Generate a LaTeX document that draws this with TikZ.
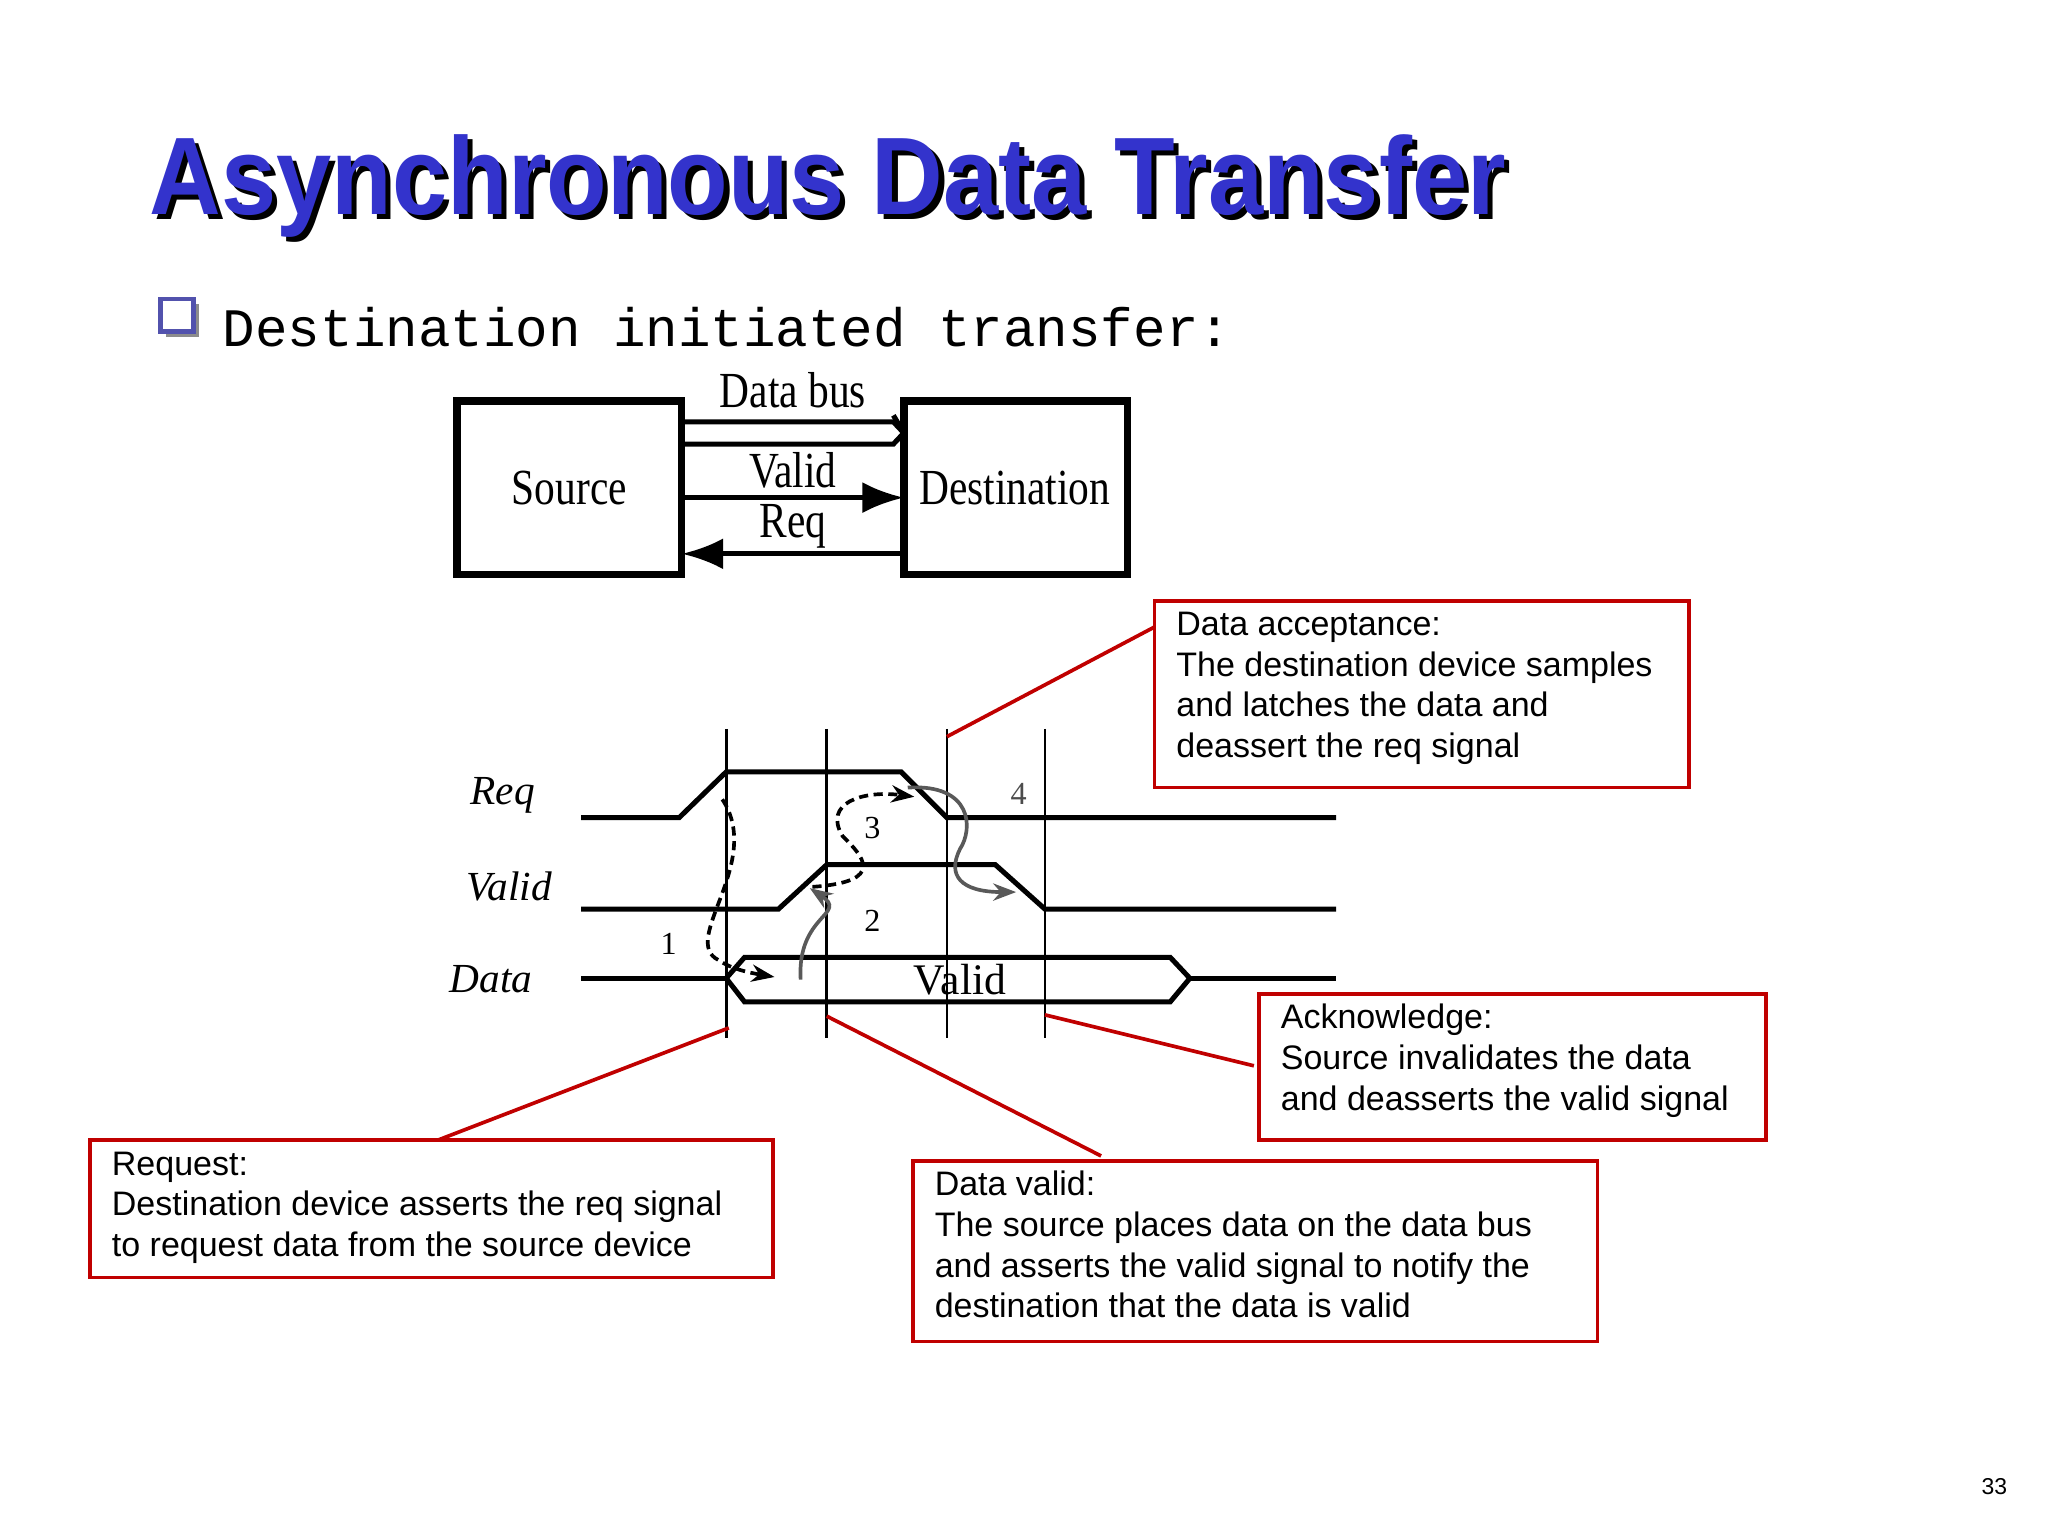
\documentclass[tikz,border=0pt]{standalone}
\usepackage{fontspec}
\setmainfont{Liberation Serif}
\setsansfont{Liberation Sans}
\setmonofont{Liberation Mono}
\usetikzlibrary{arrows.meta}
\definecolor{tblue}{HTML}{3333CC}
\definecolor{cred}{HTML}{C00000}
\begin{document}
\begin{tikzpicture}[x=0.01cm,y=-0.01cm,
  thk/.style={line width=1.6pt},
  sig/.style={line width=1.1pt},
  vl/.style={line width=0.6pt},
  callout/.style={draw=cred,line width=0.8pt},
  cline/.style={draw=cred,line width=0.8pt},
  ctext/.style={anchor=base west,font=\sffamily\fontsize{7.4}{8.85}\selectfont,align=left,inner sep=0pt},
  blab/.style={font=\fontsize{11}{11}\selectfont,xscale=0.82},
  tlab/.style={font=\itshape\fontsize{9}{9}\selectfont},
  num/.style={font=\fontsize{7}{7}\selectfont},
  dash1/.style={line width=0.8pt,dash pattern=on 2pt off 1.2pt,-{Stealth[length=5pt]}},
  gray1/.style={line width=0.8pt,draw=black!65,-{Stealth[length=5pt]}}]
\useasboundingbox (0,0) rectangle (1568,1176);
% title
\node[anchor=base west,font=\sffamily\bfseries\fontsize{24}{24}\selectfont,xscale=0.9,text=black,inner sep=0pt] at (118,168) {Asynchronous Data Transfer};
\node[anchor=base west,font=\sffamily\bfseries\fontsize{24}{24}\selectfont,xscale=0.9,text=tblue,inner sep=0pt] (title) at (114,164) {Asynchronous Data Transfer};
% bullet
\fill[black!45] (127,233) rectangle (152,258);
\filldraw[fill=white,draw=tblue!60!gray,line width=1pt] (123,229) rectangle (148,254);
\node[anchor=base west,font=\ttfamily\fontsize{11.8}{12}\selectfont,inner sep=0pt] (sub) at (170,265) {Destination initiated transfer:};
% block diagram
\draw[thk] (350,307) rectangle (522,440);
\node[blab] (src) at (436,374) {Source};
\draw[thk] (692,307) rectangle (863,440);
\node[blab] (dst) at (777,374) {Destination};
\draw[line width=1.1pt] (522,323) -- (684,323) -- (692,331.5) -- (684,340) -- (522,340);
\draw[line width=1.1pt] (684,318) -- (692,331.5);
\draw[line width=1.1pt,-{Latex[length=9pt]}] (522,381) -- (692,381);
\draw[line width=1.1pt,-{Latex[length=9pt]}] (692,424) -- (522,424);
\node[blab] at (607,299) {Data bus};
\node[blab] at (607,360) {Valid};
\node[blab] at (607,403) {Req};
% timing
\foreach \x/\n in {556/v1,633/v2,725/v3,800/v4} \draw[vl] (\x,558) coordinate (\n t) -- (\x,795) coordinate (\n b);
\draw[sig] (445,626) -- (520,626) -- (556,591) -- (690,591) -- (725,626) -- (1023,626);
\draw[sig] (445,696) -- (596,696) -- (633,662) -- (762,662) -- (800,696) -- (1023,696);
\draw[sig] (445,749) -- (556,749);
\draw[sig] (556,749) -- (570,733) -- (896,733) -- (911,749) -- (896,767) -- (570,767) -- cycle;
\draw[sig] (911,749) -- (1023,749);
\node[tlab] at (385,609) {Req};
\node[tlab] at (390,679) {Valid};
\node[tlab] at (376,750) {Data};
\node[font=\fontsize{9.5}{9.5}\selectfont] at (735,750) {Valid};
\node[num] at (512,723) {1};
\node[num] at (668,705) {2};
\node[num] at (668,634) {3};
\node[num,text=black!70] at (780,608) {4};
\draw[dash1] (553,612) .. controls (585,660) and (520,720) .. (550,735) .. controls (560,742) and (575,745) .. (593,748);
\draw[gray1] (613,750) .. controls (610,700) and (650,700) .. (620,680);
\draw[dash1] (622,679) .. controls (680,675) and (660,655) .. (645,640) .. controls (630,615) and (660,605) .. (700,610);
\draw[gray1] (695,603) .. controls (745,600) and (745,635) .. (735,650) .. controls (725,670) and (735,683) .. (778,683);
% callouts
\draw[callout] (884,460) rectangle (1293,603);
\node[ctext] (ta) at (900,580) {Data acceptance:\\The destination device samples\\and latches the data and\\deassert the req signal};
\draw[cline] (884,480) -- (v3t |- 0,564);
\draw[callout] (964,761) rectangle (1352,873);
\node[ctext] (tb) at (980,850) {Acknowledge:\\Source invalidates the data\\and deasserts the valid signal};
\draw[cline] (960,816) -- (v4b |- 0,777);
\draw[callout] (69,873) rectangle (592,978);
\node[ctext] (tc) at (85,962) {Request:\\Destination device asserts the req signal\\to request data from the source device};
\draw[cline] (335,873) -- (558,787);
\draw[callout] (699,889) rectangle (1223,1027);
\node[ctext] (td) at (715,1009) {Data valid:\\The source places data on the data bus\\and asserts the valid signal to notify the\\destination that the data is valid};
\draw[cline] (843,885) -- (v2b |- 0,778);
\node[font=\sffamily\fontsize{5}{5}\selectfont] (pg) at (1527,1138) {33};
\end{tikzpicture}
\end{document}
